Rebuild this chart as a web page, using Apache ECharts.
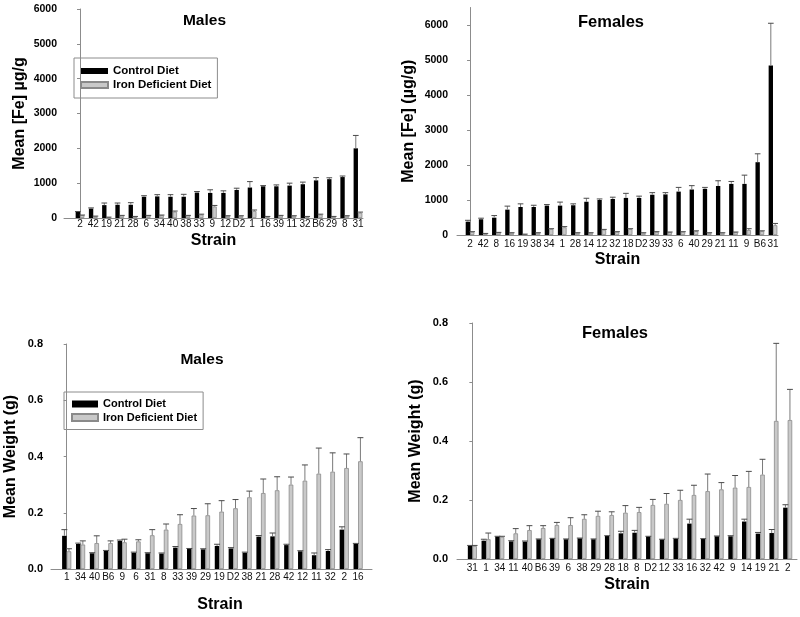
<!DOCTYPE html>
<html>
<head>
<meta charset="utf-8">
<script src="https://cdn.jsdelivr.net/npm/echarts@6/dist/echarts.min.js"></script>
<style>
html,body{margin:0;padding:0;background:#fff;}
#chart{width:800px;height:617px;}
</style>
</head>
<body>
<div id="chart"></div>
<script>
// ---------- DATA ----------
const seriesNames = ['Control Diet', 'Iron Deficient Diet'];

// Panel 1: Males, iron
const feMaleStrains = ['2','42','19','21','28','6','34','40','38','33','9','12','D2','1','16','39','11','32','B6','29','8','31'];
const feMaleControl = [175,270,370,380,380,610,620,610,610,730,720,720,805,875,910,910,930,970,1080,1115,1175,2000];
const feMaleControlErr = [10,20,60,50,60,30,50,60,70,30,90,60,50,170,20,40,70,60,80,40,30,370];
const feMaleIron = [80,50,20,70,40,70,80,180,70,100,330,60,60,200,40,70,60,40,100,40,60,150];
const feMaleIronErr = [5,5,5,5,5,5,5,20,5,10,30,5,5,30,5,5,5,5,10,5,5,20];

// Panel 2: Females, iron
const feFemaleStrains = ['2','42','8','16','19','38','34','1','28','14','12','32','18','D2','39','33','6','40','29','21','11','9','B6','31'];
const feFemaleControl = [380,450,495,725,800,800,840,840,850,950,1000,1030,1060,1060,1150,1160,1240,1300,1320,1400,1460,1460,2080,4840];
const feFemaleControlErr = [40,30,60,100,90,50,30,100,40,100,30,50,130,50,60,50,120,110,40,150,70,250,240,1210];
const feFemaleIron = [90,40,70,60,20,60,170,220,60,60,150,90,170,60,90,80,90,110,60,60,80,140,110,280];
const feFemaleIronErr = [5,5,5,5,5,5,10,20,5,5,10,5,10,5,5,5,5,10,5,5,5,40,10,50];

// Panel 3: Males, weight
const wtMaleStrains = ['1','34','40','B6','9','6','31','8','33','39','29','19','D2','38','21','28','42','12','11','32','2','16'];
const wtMaleControl = [0.118,0.089,0.056,0.064,0.100,0.058,0.056,0.055,0.076,0.071,0.070,0.082,0.073,0.058,0.115,0.116,0.085,0.063,0.049,0.064,0.140,0.089];
const wtMaleControlErr = [0.022,0.003,0.002,0.002,0.003,0.002,0.002,0.002,0.004,0.002,0.002,0.006,0.003,0.002,0.004,0.012,0.003,0.002,0.008,0.005,0.010,0.002];
const wtMaleIron = [0.063,0.087,0.092,0.092,0.095,0.098,0.120,0.140,0.160,0.190,0.191,0.204,0.216,0.255,0.270,0.280,0.300,0.314,0.339,0.346,0.359,0.383];
const wtMaleIronErr = [0.009,0.013,0.026,0.008,0.011,0.006,0.020,0.020,0.033,0.025,0.041,0.039,0.031,0.022,0.050,0.048,0.027,0.056,0.091,0.067,0.050,0.084];

// Panel 4: Females, weight
const wtFemaleStrains = ['31','1','34','11','40','B6','39','6','38','29','28','18','8','D2','12','33','16','32','42','9','14','19','21','2'];
const wtFemaleControl = [0.044,0.062,0.076,0.060,0.059,0.067,0.069,0.067,0.070,0.067,0.078,0.087,0.089,0.076,0.066,0.068,0.120,0.068,0.077,0.077,0.127,0.086,0.088,0.174];
const wtFemaleControlErr = [0.002,0.005,0.001,0.002,0.002,0.001,0.001,0.001,0.001,0.001,0.001,0.007,0.008,0.001,0.001,0.002,0.015,0.001,0.001,0.002,0.008,0.004,0.012,0.010];
const wtFemaleIron = [0.044,0.067,0.075,0.087,0.098,0.105,0.115,0.115,0.136,0.146,0.149,0.157,0.159,0.183,0.187,0.200,0.217,0.230,0.236,0.242,0.244,0.286,0.468,0.471];
const wtFemaleIronErr = [0.002,0.021,0.002,0.016,0.015,0.008,0.009,0.025,0.014,0.016,0.011,0.024,0.016,0.019,0.035,0.033,0.033,0.058,0.023,0.041,0.053,0.052,0.263,0.104];

// Tick labels
const feTicks = [0,1000,2000,3000,4000,5000,6000];
const wtTicks = [0,0.2,0.4,0.6,0.8];

const titles = ['Males','Females','Males','Females'];
const yNames = ['Mean [Fe] \u00b5g/g','Mean [Fe] (\u00b5g/g)','Mean Weight (g)','Mean Weight (g)'];
const xName = 'Strain';

// ---------- LAYOUT ----------
const FONT = '"Liberation Sans", Arial, sans-serif';
const NARROW = '"Liberation Sans Narrow", "Arial Narrow", "Liberation Sans", sans-serif';
const BAR_FRAC = 0.33;

const panels = [
  {strains: feMaleStrains, c: feMaleControl, ce: feMaleControlErr, d: feMaleIron, de: feMaleIronErr,
   grid: {left: 64, top: 9, width: 299, height: 209}, xMin: -1.21, xMax: 21.38,
   yMax: 6000, ticks: feTicks, fmt: v => String(v), yLabelSize: 10.5, yLabelMargin: 7,
   yNameGap: 36, xNameGap: 15, xLabelMargin: 1.5, xNamePad: 0,
   title: {x: 199.5, y: 8, size: 15.5}},
  {strains: feFemaleStrains, c: feFemaleControl, ce: feFemaleControlErr, d: feFemaleIron, de: feFemaleIronErr,
   grid: {left: 457, top: 7.5, width: 321, height: 227.5}, xMin: -0.99, xMax: 23.38,
   yMax: 6500, ticks: feTicks, fmt: v => String(v), yLabelSize: 10.5, yLabelMargin: 9,
   yNameGap: 40, xNameGap: 17, xLabelMargin: 4, xNamePad: 0,
   title: {x: 606, y: 9, size: 16.5}},
  {strains: wtMaleStrains, c: wtMaleControl, ce: wtMaleControlErr, d: wtMaleIron, de: wtMaleIronErr,
   grid: {left: 51, top: 344, width: 321, height: 225}, xMin: -1.13, xMax: 22.0,
   yMax: 0.8, ticks: wtTicks, fmt: v => v.toFixed(1), yLabelSize: 11, yLabelMargin: 8,
   yNameGap: 32, xNameGap: 28, xLabelMargin: 3, xNamePad: 17,
   title: {x: 197, y: 347, size: 15.5}},
  {strains: wtFemaleStrains, c: wtFemaleControl, ce: wtFemaleControlErr, d: wtFemaleIron, de: wtFemaleIronErr,
   grid: {left: 457, top: 323, width: 340, height: 236}, xMin: -1.12, xMax: 23.68,
   yMax: 0.8, ticks: wtTicks, fmt: v => v.toFixed(1), yLabelSize: 11, yLabelMargin: 9,
   yNameGap: 33, xNameGap: 18, xLabelMargin: 4, xNamePad: 0,
   title: {x: 610, y: 320, size: 16.5}}
];

function errorRender(side) {
  return function (params, api) {
    const x = api.value(0), v = api.value(1), e = api.value(2);
    const p0 = api.coord([x, v]);
    const p1 = api.coord([x, v + e]);
    const band = api.size([1, 0])[0];
    const w = band * BAR_FRAC;
    const cx = p0[0] + side * w / 2;
    const cap = w * 0.65;
    return {
      type: 'group',
      children: [
        {type: 'line', shape: {x1: cx, y1: p0[1], x2: cx, y2: p1[1]},
         style: {stroke: '#7a7a7a', lineWidth: 1}},
        {type: 'line', shape: {x1: cx - cap, y1: p1[1], x2: cx + cap, y2: p1[1]},
         style: {stroke: '#4a4a4a', lineWidth: 1}}
      ]
    };
  };
}

const grids = [], xAxes = [], yAxes = [], series = [], titleOpts = [];
panels.forEach((p, i) => {
  grids.push(Object.assign({containLabel: false}, p.grid));
  const idx = p.strains.map((_, k) => k);
  xAxes.push({
    type: 'value', gridIndex: i, min: p.xMin, max: p.xMax,
    splitLine: {show: false},
    axisLine: {show: true, onZero: false, lineStyle: {color: '#8c8c8c', width: 1}},
    axisTick: {show: false},
    axisLabel: {customValues: idx, formatter: v => p.strains[Math.round(v)] || '',
      fontFamily: NARROW, fontSize: 10, color: '#111', margin: p.xLabelMargin},
    name: xName, nameLocation: 'middle', nameGap: p.xNameGap,
    nameTextStyle: {fontFamily: FONT, fontWeight: 'bold', fontSize: 16, color: '#000',
      padding: [0, 0, 0, p.xNamePad]}
  });
  yAxes.push({
    type: 'value', gridIndex: i, min: 0, max: p.yMax,
    splitLine: {show: false},
    axisLine: {show: true, lineStyle: {color: '#8c8c8c', width: 1}},
    axisTick: {show: true, customValues: p.ticks, length: 3, lineStyle: {color: '#8c8c8c'}},
    axisLabel: {customValues: p.ticks, formatter: p.fmt, fontFamily: FONT, fontWeight: 'bold',
      fontSize: p.yLabelSize, color: '#000', margin: p.yLabelMargin},
    name: yNames[i], nameLocation: 'middle', nameGap: p.yNameGap,
    nameTextStyle: {fontFamily: FONT, fontWeight: 'bold', fontSize: 16, color: '#000'}
  });
  series.push({
    name: seriesNames[0], type: 'bar', xAxisIndex: i, yAxisIndex: i,
    barWidth: (BAR_FRAC * 100) + '%', barGap: '0%',
    itemStyle: {color: '#000'},
    data: p.c.map((v, k) => [k, v])
  });
  series.push({
    name: seriesNames[1], type: 'bar', xAxisIndex: i, yAxisIndex: i,
    barWidth: (BAR_FRAC * 100) + '%', barGap: '0%',
    itemStyle: {color: '#c9c9c9', borderColor: '#8a8a8a', borderWidth: 0.8},
    data: p.d.map((v, k) => [k, v])
  });
  series.push({
    type: 'custom', xAxisIndex: i, yAxisIndex: i, renderItem: errorRender(-1),
    encode: {x: 0, y: 1}, z: 3, silent: true,
    data: p.c.map((v, k) => [k, v, p.ce[k]])
  });
  series.push({
    type: 'custom', xAxisIndex: i, yAxisIndex: i, renderItem: errorRender(1),
    encode: {x: 0, y: 1}, z: 3, silent: true,
    data: p.d.map((v, k) => [k, v, p.de[k]])
  });
  titleOpts.push({
    text: titles[i], left: p.title.x, top: p.title.y, textAlign: 'center',
    textStyle: {fontFamily: FONT, fontWeight: 'bold', fontSize: p.title.size, color: '#000'}
  });
});

const legendBase = {
  orient: 'vertical', data: seriesNames, icon: 'rect',
  borderColor: '#8c8c8c', borderWidth: 1, borderRadius: 0, selectedMode: false
};

const option = {
  animation: false,
  backgroundColor: '#fff',
  title: titleOpts,
  legend: [
    Object.assign({}, legendBase, {left: 74, top: 58, padding: [7, 6, 7, 6],
      itemWidth: 27, itemHeight: 6, itemGap: 2, itemTextGap: 5,
      textStyle: {fontFamily: FONT, fontWeight: 'bold', fontSize: 11.5, color: '#000', lineHeight: 12}}),
    Object.assign({}, legendBase, {left: 64, top: 392, padding: [6, 6, 6, 7],
      itemWidth: 26, itemHeight: 7, itemGap: 1.5, itemTextGap: 5,
      textStyle: {fontFamily: FONT, fontWeight: 'bold', fontSize: 11, color: '#000', lineHeight: 12}})
  ],
  grid: grids,
  xAxis: xAxes,
  yAxis: yAxes,
  series: series
};

const chart = echarts.init(document.getElementById('chart'), null, {renderer: 'canvas'});
chart.setOption(option);
</script>
</body>
</html>
